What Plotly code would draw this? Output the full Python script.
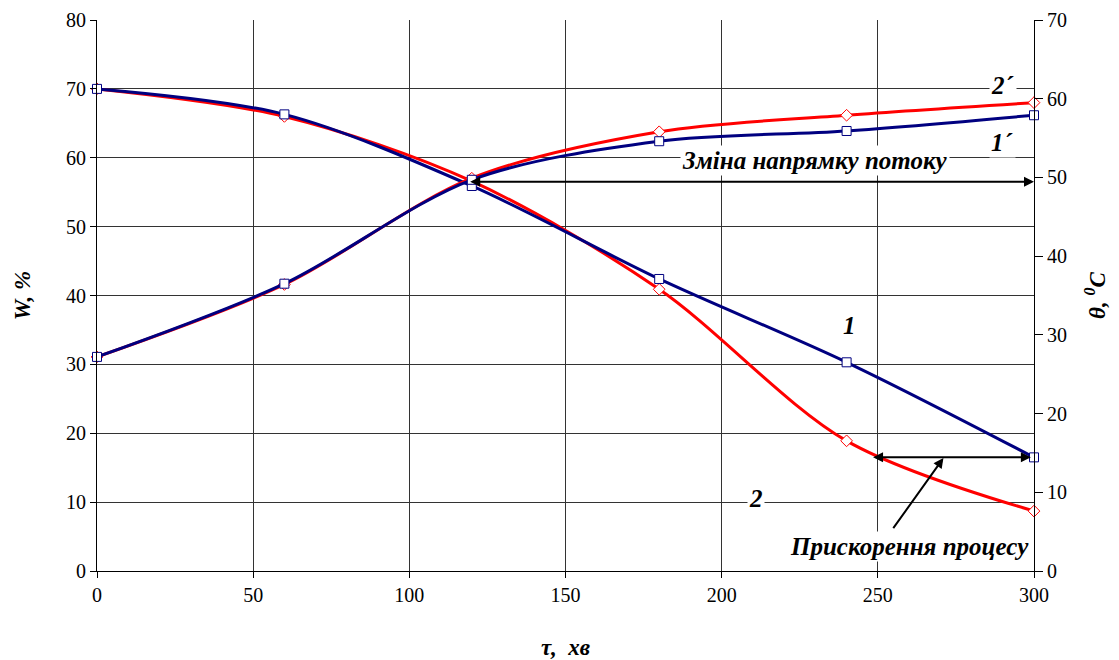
import plotly.graph_objects as go

# ---- data ----
tau = [0, 60, 120, 180, 240, 300]            # time, min
W1 = [70, 66.3, 55.9, 42.4, 30.3, 16.5]      # curve 1, moisture %
W2 = [70, 66.0, 56.6, 40.9, 18.9, 8.7]       # curve 2, moisture %
T1 = [27.2, 36.5, 49.7, 54.6, 55.9, 57.9]    # curve 1', temperature °C
T2 = [27.2, 36.4, 49.9, 55.8, 57.9, 59.5]    # curve 2', temperature °C

x_ticks = [0, 50, 100, 150, 200, 250, 300]
w_ticks = [0, 10, 20, 30, 40, 50, 60, 70, 80]
t_ticks = [0, 10, 20, 30, 40, 50, 60, 70]

BLUE = "#000080"
RED = "#FF0000"
SERIF = "Liberation Serif, Times New Roman, serif"

fig = go.Figure()

def red_trace(y, yaxis):
    return go.Scatter(x=tau, y=y, yaxis=yaxis, mode="lines+markers", cliponaxis=False,
                      line=dict(color=RED, width=3, shape="spline", smoothing=0.9),
                      marker=dict(symbol="diamond", size=9, color="white",
                                  line=dict(color=RED, width=1)),
                      showlegend=False, hoverinfo="skip")

def blue_trace(y, yaxis):
    return go.Scatter(x=tau, y=y, yaxis=yaxis, mode="lines+markers", cliponaxis=False,
                      line=dict(color=BLUE, width=3, shape="spline", smoothing=0.9),
                      marker=dict(symbol="square", size=9, color="white",
                                  line=dict(color=BLUE, width=1)),
                      showlegend=False, hoverinfo="skip")

fig.add_trace(red_trace(T2, "y2"))
fig.add_trace(blue_trace(T1, "y2"))
fig.add_trace(red_trace(W2, "y"))
fig.add_trace(blue_trace(W1, "y"))

tickfont = dict(family=SERIF, size=20, color="black")
titlefont = dict(family=SERIF, size=23, color="black")

fig.update_layout(
    width=1119, height=660,
    margin=dict(l=97, r=85, t=20, b=89),
    paper_bgcolor="white", plot_bgcolor="white",
    font=dict(family=SERIF),
    xaxis=dict(range=[0, 300], tickvals=x_ticks, showgrid=True, gridcolor="#333333",
               gridwidth=1, zeroline=False, showline=True, linecolor="black",
               ticks="outside", ticklen=6, tickcolor="black", tickfont=tickfont,
               automargin=False,
               title=dict(text="<b><i>τ,  хв</i></b>", font=titlefont, standoff=40)),
    yaxis=dict(range=[0, 80], tickvals=w_ticks, showgrid=True, gridcolor="#333333",
               gridwidth=1, zeroline=False, showline=True, linecolor="black",
               ticks="outside", ticklen=6, tickcolor="black", tickfont=tickfont,
               automargin=False,
               title=dict(text="<b><i>W, %</i></b>", font=titlefont, standoff=28)),
    yaxis2=dict(range=[0, 70], tickvals=t_ticks, overlaying="y", side="right",
                showgrid=False, zeroline=False, showline=True, linecolor="black",
                ticks="outside", ticklen=8, tickcolor="black", tickfont=tickfont,
                automargin=False,
                title=dict(text="<b><i>θ, <sup>0</sup>C</i></b>", font=titlefont, standoff=22)),
)

annfont = dict(family=SERIF, size=25, color="black")

# text labels
labels = [
    (241, 35.7, "1"),
    (211, 10.5, "2"),
    (290, 62.2, "1´"),
    (290, 70.5, "2´"),
]
for x, y, t in labels:
    fig.add_annotation(x=x, y=y, xref="x", yref="y", text=f"<b><i>{t}</i></b>",
                       showarrow=False, font=annfont, bgcolor="white")

fig.add_annotation(x=230, y=59.6, xref="x", yref="y",
                   text="<b><i>Зміна напрямку потоку</i></b>",
                   showarrow=False, font=annfont, bgcolor="white")
fig.add_annotation(x=260, y=3.5, xref="x", yref="y",
                   text="<b><i>Прискорення процесу</i></b>",
                   showarrow=False, font=annfont, bgcolor="white")

# arrows
fig.add_annotation(x=300, y=56.5, ax=119, ay=56.5, xref="x", yref="y",
                   axref="x", ayref="y", text="", showarrow=True,
                   arrowhead=2, arrowside="end+start", arrowwidth=2, arrowsize=1,
                   arrowcolor="black")
fig.add_annotation(x=299, y=16.5, ax=248, ay=16.5, xref="x", yref="y",
                   axref="x", ayref="y", text="", showarrow=True,
                   arrowhead=2, arrowside="end+start", arrowwidth=2, arrowsize=1,
                   arrowcolor="black")
fig.add_annotation(x=271, y=16.4, ax=254.6, ay=6.0, xref="x", yref="y",
                   axref="x", ayref="y", text="", showarrow=True,
                   arrowhead=2, arrowwidth=2, arrowsize=1, arrowcolor="black")

fig.write_html("out.html")
